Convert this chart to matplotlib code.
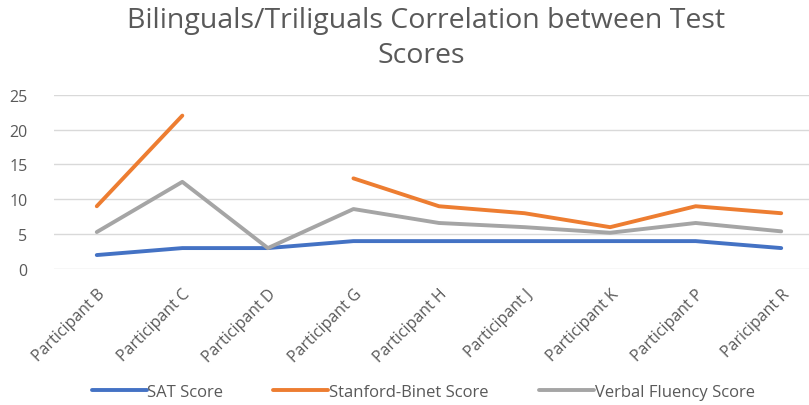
import numpy as np
import matplotlib.pyplot as plt

participants = ["Participant B", "Participant C", "Participant D", "Participant G",
                "Participant H", "Participant J", "Participant K", "Participant P",
                "Paricipant R"]
sat_score = [2, 3, 3, 4, 4, 4, 4, 4, 3]
stanford_binet = [9, 22, np.nan, 13, 9, 8, 6, 9, 8]
verbal_fluency = [5.3, 12.5, 3, 8.6, 6.6, 6, 5.2, 6.6, 5.4]

plt.rcParams['font.family'] = ['Open Sans', 'DejaVu Sans']
text_col = "#595959"

fig = plt.figure(figsize=(8.09, 4.06), dpi=100)
ax = fig.add_axes([54 / 809, 136 / 406, 770 / 809, 174.3 / 406])

x = np.arange(len(participants))
ax.plot(x, sat_score, color="#4472C4", lw=2.8, label="SAT Score", solid_capstyle="round")
ax.plot(x, stanford_binet, color="#ED7D31", lw=2.8, label="Stanford-Binet Score", solid_capstyle="round")
ax.plot(x, verbal_fluency, color="#A5A5A5", lw=2.8, label="Verbal Fluency Score", solid_capstyle="round")

ax.set_xlim(-0.5, len(participants) - 0.5)
ax.set_ylim(0, 25)
ax.set_yticks(range(0, 26, 5))
ax.grid(axis="y", color="#D9D9D9", lw=1)
ax.set_axisbelow(True)
for s in ax.spines.values():
    s.set_visible(False)
ax.tick_params(length=0, colors=text_col, labelsize=11.5)
ax.tick_params(axis="y", pad=19)
ax.set_xticks(x)
ax.set_xticklabels(participants, rotation=45, ha="right", va="top",
                   rotation_mode="anchor", fontsize=11.5)
ax.tick_params(axis="x", pad=12)

fig.text(0.527, 1 - 21 / 406, "Bilinguals/Triliguals Correlation between Test",
         ha="center", va="center", fontsize=20.5, color=text_col)
fig.text(0.521, 1 - 56 / 406, "Scores",
         ha="center", va="center", fontsize=20.5, color=text_col)

fig.legend(loc="center", bbox_to_anchor=(423 / 809, 1 - 393 / 406), ncol=3,
           frameon=False, fontsize=12, labelcolor=text_col, handlelength=3.3,
           handletextpad=0.05, columnspacing=3.0)

plt.savefig("out.png", dpi=100)
